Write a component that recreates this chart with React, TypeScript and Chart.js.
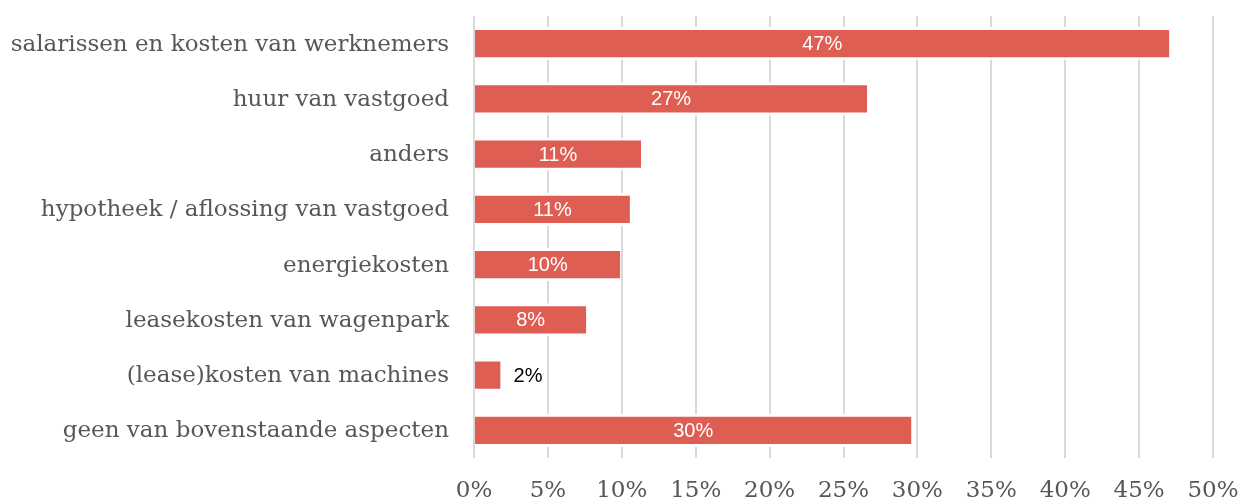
import { useEffect, useRef } from "react";
import { Chart, registerables } from "chart.js";

Chart.register(...registerables);

const categories = [
  "salarissen en kosten van werknemers",
  "huur van vastgoed",
  "anders",
  "hypotheek / aflossing van vastgoed",
  "energiekosten",
  "leasekosten van wagenpark",
  "(lease)kosten van machines",
  "geen van bovenstaande aspecten",
];
const shares = [47.05, 26.6, 11.3, 10.55, 9.9, 7.6, 1.8, 29.6];
const axisMax = 50;
const axisStep = 5;

const BAR_COLOR = "#DF5E53";
const GRID_COLOR = "#D9D9D9";
const TEXT_COLOR = "#575757";
const SERIF = "'DejaVu Serif', serif";

const valueLabels = {
  id: "valueLabels",
  afterDatasetsDraw(chart: any) {
    const ctx = chart.ctx;
    const meta = chart.getDatasetMeta(0);
    ctx.save();
    ctx.font = "20px 'Liberation Sans', Arial, sans-serif";
    ctx.textBaseline = "middle";
    meta.data.forEach((bar: any, i: number) => {
      const v = chart.data.datasets[0].data[i] as number;
      const text = Math.round(v) + "%";
      const w = bar.x - bar.base;
      if (w > 45) {
        ctx.fillStyle = "#FFFFFF";
        ctx.textAlign = "center";
        ctx.fillText(text, (bar.x + bar.base) / 2, bar.y + 1);
      } else {
        ctx.fillStyle = "#000000";
        ctx.textAlign = "left";
        ctx.fillText(text, bar.x + 13, bar.y + 1);
      }
    });
    ctx.restore();
  },
};

export default function App() {
  const canvasRef = useRef<HTMLCanvasElement | null>(null);

  useEffect(() => {
    document.body.style.margin = "0";
    const canvas = canvasRef.current;
    if (!canvas) return;
    const chart = new Chart(canvas, {
      type: "bar",
      data: {
        labels: categories,
        datasets: [
          {
            data: shares,
            backgroundColor: BAR_COLOR,
            borderColor: "#FFFFFF",
            borderWidth: { top: 3, bottom: 3, left: 0, right: 0 },
            borderSkipped: false,
            barPercentage: 0.6,
            categoryPercentage: 1,
          },
        ],
      },
      options: {
        indexAxis: "y",
        responsive: false,
        animation: false,
        devicePixelRatio: 1,
        layout: { padding: { top: 16, right: 30, bottom: 0, left: 0 } },
        plugins: {
          legend: { display: false },
          tooltip: { enabled: false },
        },
        scales: {
          x: {
            min: 0,
            max: axisMax,
            border: { display: false },
            grid: { color: GRID_COLOR, lineWidth: 2, drawTicks: false },
            ticks: {
              stepSize: axisStep,
              padding: 19,
              color: TEXT_COLOR,
              font: { family: SERIF, size: 23 },
              callback: (v: any) => v + "%",
            },
            afterFit: (scale: any) => {
              scale.height = 42;
              scale.paddingLeft = 0;
              scale.paddingRight = 0;
            },
          },
          y: {
            border: { display: false },
            grid: { display: false, drawTicks: false },
            ticks: {
              padding: 25,
              labelOffset: 1,
              color: TEXT_COLOR,
              font: { family: SERIF, size: 23 },
            },
            afterFit: (scale: any) => {
              scale.width = 474;
              scale.paddingTop = 0;
              scale.paddingBottom = 0;
            },
          },
        },
      },
      plugins: [valueLabels],
    });
    return () => chart.destroy();
  }, []);

  return (
    <div style={{ position: "absolute", left: 0, top: 0, width: 1243, height: 500 }}>
      <canvas ref={canvasRef} width={1243} height={500} />
    </div>
  );
}
